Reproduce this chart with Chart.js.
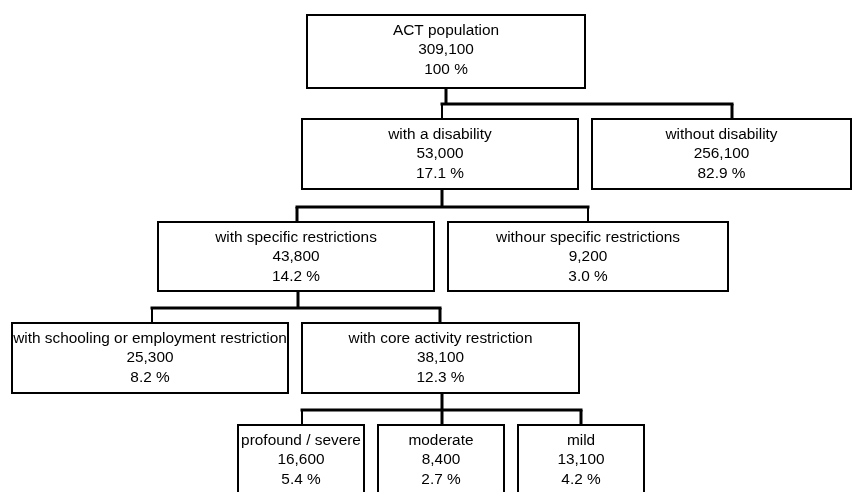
<!DOCTYPE html>
<html>
<head>
<meta charset="utf-8">
<script src="https://cdn.jsdelivr.net/npm/chart.js"></script>
<style>
  html, body { margin: 0; padding: 0; background: #fff; }
  #wrap { width: 856px; height: 492px; }
</style>
</head>
<body>
<div id="wrap"><canvas id="tree" width="856" height="492"></canvas></div>
<script>
// Datos del árbol
const nodeLabels = [
    'ACT population',
    'with a disability',
    'without disability',
    'with specific restrictions',
    'withour specific restrictions',
    'with schooling or employment restriction',
    'with core activity restriction',
    'profound / severe',
    'moderate',
    'mild'
];
const nodeCounts = [309100, 53000, 256100, 43800, 9200, 25300, 38100, 16600, 8400, 13100];
const nodePercents = ['100', '17.1', '82.9', '14.2', '3.0', '8.2', '12.3', '5.4', '2.7', '4.2'];
const nodeParents = [-1, 0, 0, 1, 1, 3, 3, 6, 6, 6];

// Posición de cada caja (unidades de escala): x1, y1, x2, y2
const boxLayout = [
    [307, 15, 585, 88],
    [302, 119, 578, 189],
    [592, 119, 851, 189],
    [158, 222, 434, 291],
    [448, 222, 728, 291],
    [12, 323, 288, 393],
    [302, 323, 579, 393],
    [238, 425, 364, 500],
    [378, 425, 504, 500],
    [518, 425, 644, 500]
];
// Punto de conexión superior de cada caja y grosor de esa línea
const dropX = [null, 442, 732, 297, 588, 152, 440, 302, 442, 581];
const dropW = [0, 2, 3, 3, 2, 2, 3, 2, 3, 3];
// Salida inferior de las cajas con hijos
const stemX = { 0: 446, 1: 442, 3: 298, 6: 442 };

function formatNumber(num) {
    return new Intl.NumberFormat('en-US').format(num);
}

// Construir los segmentos de conexión
function buildConnectors() {
    const sets = [];
    const seg = (pts, w, cap) => sets.push({
        data: pts,
        showLine: true,
        borderColor: '#000',
        borderWidth: w,
        borderCapStyle: cap || 'butt',
        pointRadius: 0,
        fill: false
    });

    Object.keys(stemX).forEach(function (key) {
        const p = Number(key);
        const kids = nodeParents.map((par, i) => par === p ? i : -1).filter(i => i >= 0);
        const barY = boxLayout[kids[0]][1] - 15;
        const xs = kids.map(k => dropX[k]);
        // tallo desde la caja padre
        seg([{ x: stemX[p], y: boxLayout[p][3] }, { x: stemX[p], y: barY }], 3);
        // barra horizontal
        seg([{ x: Math.min(...xs), y: barY }, { x: Math.max(...xs), y: barY }], 3, 'square');
        // bajadas a los hijos
        kids.forEach(k => seg([{ x: dropX[k], y: barY }, { x: dropX[k], y: boxLayout[k][1] }], dropW[k]));
    });
    return sets;
}

// Plugin para dibujar las cajas y sus textos
const boxPlugin = {
    id: 'treeBoxes',
    afterDatasetsDraw(chart) {
        const ctx = chart.ctx;
        const xs = chart.scales.x;
        const ys = chart.scales.y;
        ctx.save();
        nodeLabels.forEach(function (label, i) {
            const b = boxLayout[i];
            const x1 = xs.getPixelForValue(b[0]);
            const x2 = xs.getPixelForValue(b[2]);
            const y1 = ys.getPixelForValue(b[1]);
            const y2 = ys.getPixelForValue(b[3]);
            ctx.fillStyle = '#fff';
            ctx.fillRect(x1, y1, x2 - x1, y2 - y1);
            ctx.strokeStyle = '#000';
            ctx.lineWidth = 2;
            ctx.strokeRect(x1, y1, x2 - x1, y2 - y1);

            const cx = (x1 + x2) / 2;
            ctx.fillStyle = '#000';
            ctx.font = '15.4px "Liberation Sans", Arial, sans-serif';
            ctx.textAlign = 'center';
            ctx.textBaseline = 'middle';
            const lines = [label, formatNumber(nodeCounts[i]), nodePercents[i] + ' %'];
            lines.forEach((t, j) => ctx.fillText(t, cx, y1 + 15.5 + j * 19.5));
        });
        ctx.restore();
    }
};

new Chart(document.getElementById('tree'), {
    type: 'scatter',
    data: { datasets: buildConnectors() },
    options: {
        responsive: false,
        animation: false,
        devicePixelRatio: 1,
        layout: { padding: 0 },
        plugins: {
            legend: { display: false },
            tooltip: { enabled: false }
        },
        scales: {
            x: { type: 'linear', min: 0, max: 856, display: false },
            y: { type: 'linear', min: 0, max: 492, reverse: true, display: false }
        }
    },
    plugins: [boxPlugin]
});
</script>
</body>
</html>
